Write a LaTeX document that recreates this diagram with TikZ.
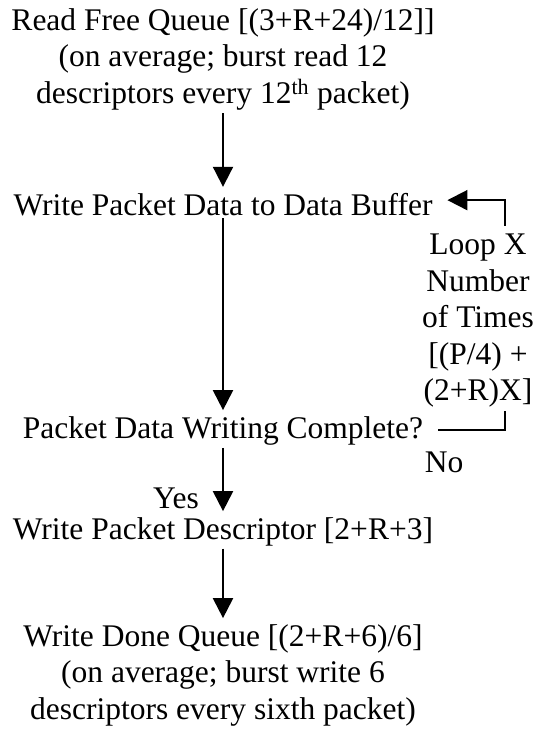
\documentclass[tikz,border=0pt]{standalone}
\usepackage{fontspec}
\setmainfont{Liberation Serif}
\usetikzlibrary{arrows.meta,positioning,calc}

\tikzset{
  flowtext/.style={align=center, anchor=base, inner sep=0pt, outer xsep=15pt, outer ysep=0pt,
    font=\fontsize{31.5}{36.5}\selectfont},
  flowline/.style={line width=2pt},
  flowarrow/.style={flowline, -{Triangle[width=20pt,length=20pt]}},
  stepgap/.style={shorten <=3pt, shorten >=6pt}
}

\begin{document}
\begin{tikzpicture}[x=1pt, y=-1pt]
  \useasboundingbox (0,0) rectangle (542,738);

  % Read free queue (base = last line)
  \node[flowtext] (readq) at (223,103.5) {Read Free Queue [(3+R+24)/12]]\\(on average; burst read 12\\descriptors every 12\textsuperscript{th} packet)};

  % Write packet data
  \node[flowtext] (wdata) at (223,215) {Write Packet Data to Data Buffer};

  % Loop count
  \node[flowtext] (loopn) at (478,400.5) {Loop X\\Number\\of Times\\{[}(P/4) +\\(2+R)X]};
  \coordinate (loopcol) at (504.5,0);

  % Check
  \node[flowtext] (check) at (223,438) {Packet Data Writing Complete?};
  \node[flowtext] (no) at (444,472) {No};
  \node[flowtext] (yes) at (176,508) {Yes};

  % Write descriptor
  \node[flowtext] (wdesc) at (223,539) {Write Packet Descriptor [2+R+3]};

  % Write done queue
  \node[flowtext] (doneq) at (223,719) {Write Done Queue [(2+R+6)/6]\\(on average; burst write 6\\descriptors every sixth packet)};

  % Connections
  \draw[flowarrow, stepgap] (readq) -- (wdata);
  \draw[flowarrow, stepgap] (wdata) -- (check);
  \draw[flowarrow, stepgap] (check) -- (wdesc);
  \draw[flowarrow, stepgap] (wdesc) -- (doneq);

  \draw[flowline, shorten >=4pt] (check.east) -| (loopcol |- loopn.south);
  \draw[flowarrow, shorten <=8pt] (loopcol |- loopn.north) |- ([yshift=4pt]wdata.east);
\end{tikzpicture}
\end{document}
